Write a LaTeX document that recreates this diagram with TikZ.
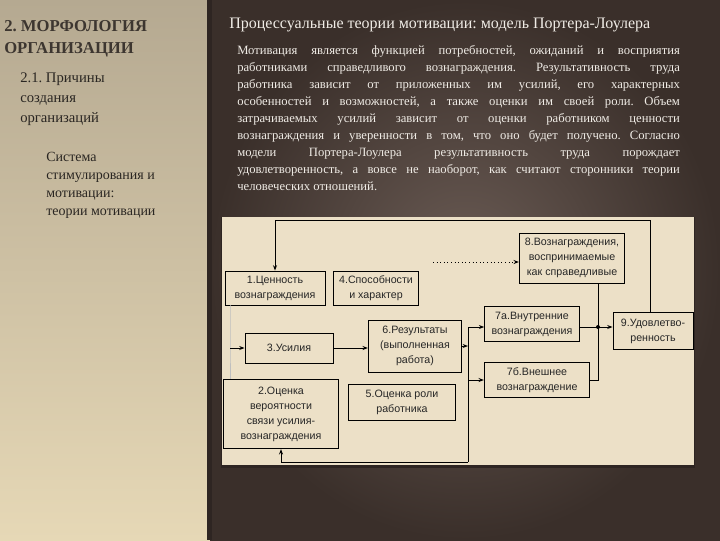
\documentclass[tikz,border=0pt]{standalone}
\usepackage{fontspec}
\setmainfont{Liberation Serif}
\newfontfamily\boxfont{Liberation Sans}
\usetikzlibrary{arrows.meta}
\definecolor{lefttop}{HTML}{B5A991}
\definecolor{leftbot}{HTML}{E6D8B6}
\definecolor{brownmid}{HTML}{6B5C55}
\definecolor{brownedge}{HTML}{3A2F2A}
\definecolor{panel}{HTML}{ECE0C7}
\definecolor{headc}{HTML}{3D3630}
\definecolor{inkc}{HTML}{2A2622}
\definecolor{lightc}{HTML}{F0ECE6}
\frenchspacing
\begin{document}
\begin{tikzpicture}[x=0.75pt,y=-0.75pt,
  blk/.style={draw=black, line width=0.7pt, fill=panel, align=center, inner sep=1pt,
    font=\boxfont\fontsize{8}{11.25}\selectfont, text=black!85},
  wire/.style={line width=0.7pt},
  >={Stealth[length=4pt,width=3pt]}]
  \useasboundingbox (0,0) rectangle (720,540);
  \shade[top color=lefttop, bottom color=leftbot] (0,0) rectangle (210,540);
  \shade[inner color=brownmid, outer color=brownedge] (210,0) rectangle (720,540);
  \fill[brownedge!80!black] (207,0) rectangle (212,540);
  % left column
  \node[anchor=base west, inner sep=0, text=headc, font=\bfseries\fontsize{12.5}{15}\selectfont] (head1) at (4,31) {2. МОРФОЛОГИЯ};
  \node[anchor=base west, inner sep=0, text=headc, font=\bfseries\fontsize{12.5}{15}\selectfont] (head2) at (4,53) {ОРГАНИЗАЦИИ};
  \foreach \t/\y [count=\i] in {2.1. Причины/82, создания/102, организаций/122}
    \node[anchor=base west, inner sep=0, text=inkc, font=\fontsize{11}{14}\selectfont] (why\i) at (20,\y) {\t};
  \foreach \t/\y [count=\i] in {Система/161, стимулирования и/179, мотивации:/197, теории мотивации/215}
    \node[anchor=base west, inner sep=0, text=inkc, font=\fontsize{10.5}{14}\selectfont] (sys\i) at (46,\y) {\t};
  % right column
  \node[anchor=base west, inner sep=0, text=lightc, font=\fontsize{12}{14}\selectfont] (title) at (229,28)
    {Процессуальные теории мотивации: модель Портера-Лоулера};
  \node[anchor=north west, inner sep=0, text width=332pt, align=justify, text=lightc,
    font=\fontsize{9.5}{12.75}\selectfont] (para) at (237,45)
    {\hyphenpenalty=10000 Мотивация является функцией потребностей, ожиданий и восприятия\linebreak
     работниками справедливого вознаграждения. Результативность труда\linebreak
     работника зависит от приложенных им усилий, его характерных\linebreak
     особенностей и возможностей, а также оценки им своей роли. Объем\linebreak
     затрачиваемых усилий зависит от оценки работником ценности\linebreak
     вознаграждения и уверенности в том, что оно будет получено. Согласно\linebreak
     модели Портера-Лоулера результативность труда порождает\linebreak
     удовлетворенность, а вовсе не наоборот, как считают сторонники теории\linebreak
     человеческих отношений.};
  % diagram
  \fill[black!20!brownedge] (221,217) rectangle (695,468);
  \fill[panel] (222,217) rectangle (694,465);
  \node[blk, minimum width=75pt, minimum height=25.5pt] (b1) at (275,288) {1.Ценность\\вознаграждения};
  \node[blk, minimum width=64pt, minimum height=25.5pt] (b4) at (376,288) {4.Способности\\и характер};
  \node[blk, minimum width=66pt, minimum height=22.5pt] (b3) at (289,348) {3.Усилия};
  \node[blk, minimum width=70pt, minimum height=39pt] (b6) at (415,346) {6.Результаты\\(выполненная\\работа)};
  \node[blk, minimum width=86pt, minimum height=52pt] (b2) at (281,414) {2.Оценка\\вероятности\\связи усилия-\\вознаграждения};
  \node[blk, minimum width=80pt, minimum height=27pt] (b5) at (402,402) {5.Оценка роли\\работника};
  \node[blk, minimum width=71pt, minimum height=26pt] (b7a) at (532,324) {7а.Внутренние\\вознаграждения};
  \node[blk, minimum width=79pt, minimum height=26pt] (b7b) at (537,380) {7б.Внешнее\\вознаграждение};
  \node[blk, minimum width=79pt, minimum height=37.5pt] (b8) at (572,258) {8.Вознаграждения,\\воспринимаемые\\как справедливые};
  \node[blk, minimum width=60pt, minimum height=28pt] (b9) at (653,331) {9.Удовлетво-\\ренность};
  \coordinate (fbtop) at (650,220);
  \coordinate (dotstart) at (433,262);
  \coordinate (j9) at (598,327);
  \coordinate (j7b) at (598,380);
  \coordinate (j6) at (468,346);
  \coordinate (j6top) at (468,327);
  \coordinate (j6bot) at (468,462);
  \coordinate (jl) at (230,348);
  \draw[wire, ->] (b9.north -| fbtop) -- (fbtop) -| (b1.north);
  \draw[wire, dotted, ->] (dotstart) -- (b8.west |- dotstart);
  \draw[wire] (b8.south -| j9) -- (j7b) -- (b7b.east);
  \draw[wire] (b7a.east |- j9) -- (j9);
  \fill (j9) circle (2);
  \draw[wire, ->] (j9) -- (b9.west |- j9);
  \draw[wire, ->] (b6.east) -- (j6);
  \draw[wire, ->] (j6bot) -- (j6top) -- (b7a.west |- j6top);
  \draw[wire, ->] (j6bot |- b7b) -- (b7b.west);
  \draw[wire, ->] (j6bot) -| (b2.south);
  \draw[wire, black!25] (b1.south -| jl) -- (jl) -- (b2.north -| jl);
  \draw[wire, ->] (jl) -- (b3.west);
  \draw[wire, ->] (b3.east) -- (b6.west |- b3.east);
\end{tikzpicture}
\end{document}
